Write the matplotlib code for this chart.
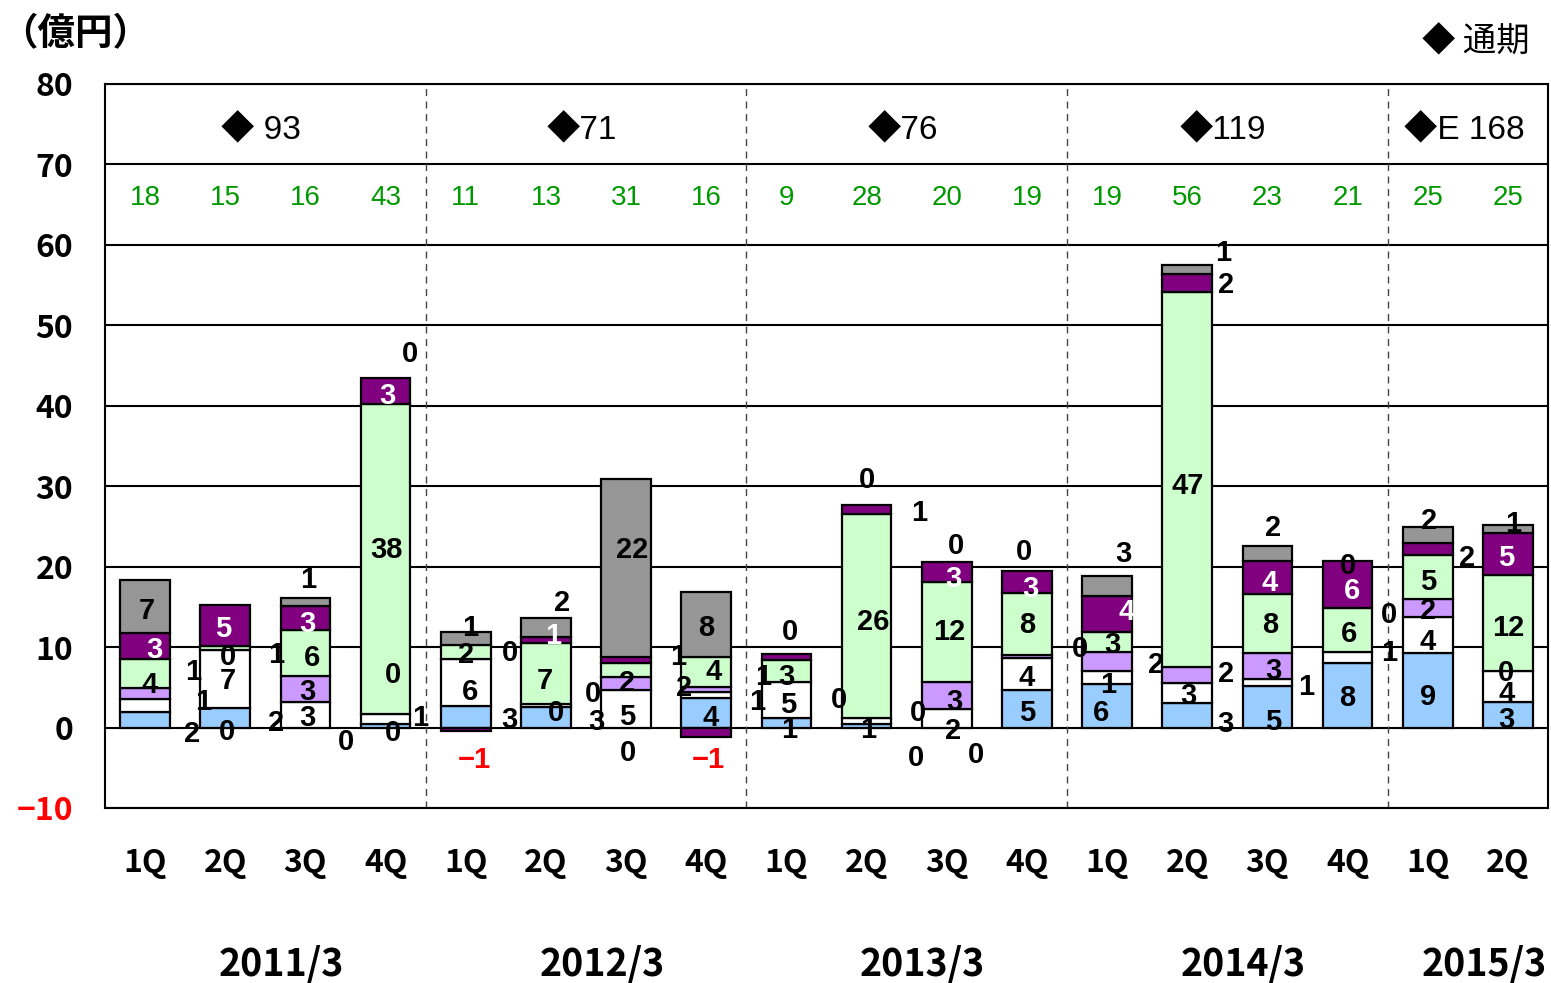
import matplotlib
matplotlib.use('Agg')
import matplotlib.pyplot as plt
import numpy as np

plt.rcParams['font.family'] = ['Liberation Sans', 'Noto Sans CJK JP', 'DejaVu Sans']
GOTHIC = ['Noto Sans CJK JP', 'DejaVu Sans']

# ---- data ----
quarters = ['1Q', '2Q', '3Q', '4Q'] * 4 + ['1Q', '2Q']
years = ['2011/3', '2012/3', '2013/3', '2014/3', '2015/3']
year_sizes = [4, 4, 4, 4, 2]
annual = ['◆ 93', '◆71', '◆76', '◆119', '◆E 168']
quarter_total = ['18', '15', '16', '43', '11', '13', '31', '16', '9', '28',
                 '20', '19', '19', '56', '23', '21', '25', '25']

blue = [1.94, 2.44, 0, 0.5, 2.69, 2.56, 0, 3.68, 1.2, 0.5, 0, 4.63, 5.44, 3.05, 5.22, 7.97, 9.3, 3.19]
white = [1.56, 7.15, 3.19, 1.24, 5.87, 0.42, 4.63, 0.74, 4.47, 0.7, 2.36, 4.0, 1.53, 2.48, 0.78, 1.39, 4.5, 3.9]
lavender = [1.42, 0, 3.18, 0, 0, 0, 1.66, 0.63, 0, 0, 3.31, 0.33, 2.48, 1.96, 3.27, 0, 2.2, 0]
green = [3.64, 0.5, 5.7, 38.46, 1.74, 7.52, 1.77, 3.72, 2.68, 25.4, 12.43, 7.78, 2.45, 46.7, 7.33, 5.54, 5.5, 11.9]
purple = [3.24, 5.16, 2.98, 3.3, -0.45, 0.75, 0.71, -1.16, 0.83, 1.1, 2.45, 2.75, 4.5, 2.2, 4.1, 5.8, 1.45, 5.15]
gray = [6.5, 0, 1.05, 0, 1.57, 2.35, 22.1, 8.03, 0, 0, 0, 0, 2.45, 1.1, 1.9, 0, 1.95, 1.05]

# data labels for each bar (text)
label_text = [
    ['2', '1', '1', '4', '3', '7'],
    ['0', '7', '0', '5'],
    ['2', '3', '3', '1', '6', '3', '1'],
    ['0', '0', '1', '0', '38', '3', '0'],
    ['−1', '6', '2', '1'],
    ['3', '0', '7', '0', '1', '2'],
    ['0', '3', '5', '0', '2', '22'],
    ['−1', '4', '2', '4', '1', '8'],
    ['1', '1', '5', '1', '3', '0'],
    ['1', '0', '26', '1', '0'],
    ['0', '2', '0', '3', '12', '3', '0', '0'],
    ['5', '4', '8', '3', '0'],
    ['6', '1', '0', '3', '4', '3'],
    ['3', '3', '2', '2', '47', '2', '1'],
    ['5', '1', '3', '8', '4', '2'],
    ['8', '1', '6', '0', '6', '0'],
    ['9', '4', '2', '5', '2', '2'],
    ['3', '4', '0', '12', '5', '1'],
]

# ---- layout of the data labels: (dx in bar slots, y in 億円, colour) ----
label_pos = [
    [(0.59, -0.4, 'k'), (0.72, 3.6, 'k'), (0.6, 7.3, 'k'), (0.06, 5.7, 'k'), (0.12, 10.0, 'w'), (0.02, 14.8, 'k')],
    [(0.02, -0.2, 'k'), (0.03, 6.1, 'k'), (0.03, 9.2, 'k'), (-0.03, 12.65, 'w')],
    [(-0.36, 0.9, 'k'), (0.02, 1.5, 'k'), (0.03, 4.8, 'k'), (-0.36, 9.4, 'k'), (0.08, 9.0, 'k'), (0.02, 13.3, 'w'), (0.04, 18.7, 'k')],
    [(-0.49, -1.4, 'k'), (0.09, -0.3, 'k'), (0.43, 1.5, 'k'), (0.09, 6.9, 'k'), (0.01, 22.4, 'k'), (0.02, 41.65, 'w'), (0.3, 46.8, 'k')],
    [(0.11, -3.6, 'r'), (0.05, 4.8, 'k'), (0.01, 9.4, 'k'), (0.05, 12.7, 'k')],
    [(-0.45, 1.3, 'k'), (0.13, 2.15, 'k'), (-0.01, 6.1, 'k'), (-0.45, 9.6, 'k'), (0.09, 11.7, 'w'), (0.2, 15.8, 'k')],
    [(0.03, -2.8, 'k'), (-0.37, 1.1, 'k'), (0.01, 1.7, 'k'), (-0.41, 4.6, 'k'), (0.01, 5.9, 'k'), (0.07, 22.4, 'k')],
    [(0.02, -3.6, 'r'), (0.05, 1.5, 'k'), (-0.28, 5.25, 'k'), (0.09, 7.3, 'k'), (-0.35, 9.2, 'k'), (0.0, 12.7, 'k')],
    [(-0.37, 3.5, 'k'), (0.04, 0.1, 'k'), (0.02, 3.2, 'k'), (-0.29, 6.7, 'k'), (0.0, 6.7, 'k'), (0.04, 12.3, 'k')],
    [(0.02, 0.1, 'k'), (-0.35, 3.8, 'k'), (0.08, 13.5, 'k'), (0.66, 27.0, 'k'), (0.01, 31.1, 'k')],
    [(-0.38, -3.4, 'k'), (0.08, -0.1, 'k'), (-0.36, 2.15, 'k'), (0.1, 3.6, 'k'), (0.03, 12.3, 'k'), (0.08, 18.9, 'w'), (0.12, 23.0, 'k'), (0.37, -3.0, 'k')],
    [(0.0, 2.15, 'k'), (0.0, 6.5, 'k'), (0.0, 13.1, 'k'), (0.04, 17.65, 'w'), (-0.04, 22.2, 'k')],
    [(-0.07, 2.2, 'k'), (0.02, 5.7, 'k'), (-0.34, 10.1, 'k'), (0.07, 10.6, 'k'), (0.25, 14.7, 'w'), (0.2, 22.0, 'k')],
    [(0.48, 0.8, 'k'), (0.01, 4.3, 'k'), (0.48, 7.0, 'k'), (-0.39, 8.2, 'k'), (0.0, 30.4, 'k'), (0.48, 55.4, 'k'), (0.45, 59.4, 'k')],
    [(0.07, 1.1, 'k'), (0.48, 5.4, 'k'), (0.07, 7.4, 'k'), (0.03, 13.1, 'k'), (0.03, 18.3, 'w'), (0.07, 25.2, 'k')],
    [(0.0, 4.1, 'k'), (0.52, 9.6, 'k'), (0.02, 12.0, 'k'), (0.52, 14.4, 'k'), (0.05, 17.4, 'w'), (0.0, 20.5, 'k')],
    [(0.0, 4.2, 'k'), (0.0, 11.0, 'k'), (0.0, 14.8, 'k'), (0.0, 18.5, 'k'), (0.49, 21.4, 'k'), (0.02, 26.1, 'k')],
    [(-0.02, 1.3, 'k'), (-0.02, 4.5, 'k'), (-0.02, 7.1, 'k'), (0.0, 12.7, 'k'), (-0.02, 21.4, 'w'), (0.07, 25.7, 'k')],
]

series = [blue, white, lavender, green, purple, gray]
colors = ['#99CCFF', '#FFFFFF', '#CC99FF', '#CCFFCC', '#800080', '#969696']
text_colors = {'k': 'black', 'w': 'white', 'r': 'red'}

fig = plt.figure(figsize=(15.51, 9.83), dpi=100)
ax = fig.add_axes([105 / 1551, 1 - 808 / 983, (1548 - 105) / 1551, (808 - 84) / 983])

n = len(quarters)
x = np.arange(n)
pos_bottom = np.zeros(n)
neg_bottom = np.zeros(n)
for vals, col in zip(series, colors):
    v = np.array(vals, dtype=float)
    bottom = np.where(v >= 0, pos_bottom, neg_bottom)
    h = np.where(v == 0, np.nan, v)
    ax.bar(x, h, bottom=bottom, width=0.62, color=col, edgecolor='black',
           linewidth=1.6, zorder=3)
    pos_bottom = pos_bottom + np.where(v > 0, v, 0)
    neg_bottom = neg_bottom + np.where(v < 0, v, 0)

# data labels
for i in range(n):
    for txt, (dx, yy, c) in zip(label_text[i], label_pos[i]):
        ax.text(i + dx, yy, txt, ha='center', va='center_baseline', fontsize=21,
                fontweight='bold', color=text_colors[c], zorder=5)

# quarterly totals (green) and annual totals
for i in range(n):
    ax.text(i, 66.2, quarter_total[i], ha='center', va='center_baseline', fontsize=20,
            color='#009900', zorder=5)

starts = np.cumsum([0] + year_sizes[:-1])
for s, size, yr, tot in zip(starts, year_sizes, years, annual):
    mid = s + (size - 1) / 2
    ax.text(mid - 0.05, 74.7, tot, ha='center', va='center_baseline', fontsize=24, zorder=5)
    ax.text(mid + 0.2, -0.21, yr, transform=ax.get_xaxis_transform(),
            ha='center', va='center_baseline', fontsize=27, fontweight='bold', family=GOTHIC)
    if s > 0:
        ax.axvline(s - 0.5, color='#444444', linestyle=(0, (5, 4)), linewidth=1.0, zorder=2)

ax.set_xlim(-0.5, n - 0.5)
ax.set_ylim(-10, 80)
ax.set_yticks(np.arange(-10, 81, 10))
ax.set_yticklabels(['−10'] + [str(t) for t in range(0, 81, 10)])
ax.get_yticklabels()[0].set_color('red')
ax.tick_params(axis='y', length=0, pad=23, labelsize=23)
for t in ax.get_yticklabels():
    t.set_fontweight('bold')
    t.set_family(GOTHIC)
ax.set_xticks(x)
ax.set_xticklabels(quarters, fontsize=23, fontweight='bold', family=GOTHIC)
ax.tick_params(axis='x', length=0, pad=28)

ax.yaxis.grid(True, color='black', linewidth=1.5, zorder=1)
ax.set_axisbelow(True)
for sp in ax.spines.values():
    sp.set_color('black')
    sp.set_linewidth(1.5)

fig.text(0 / 1551, 1 - 34 / 983, '（億円）', ha='left', va='center', fontsize=27,
         fontweight='bold', family=GOTHIC)
fig.text(1530 / 1551, 1 - 42 / 983, '◆ 通期', ha='right', va='center', fontsize=24, family=GOTHIC)

fig.savefig('out.png', dpi=100)
